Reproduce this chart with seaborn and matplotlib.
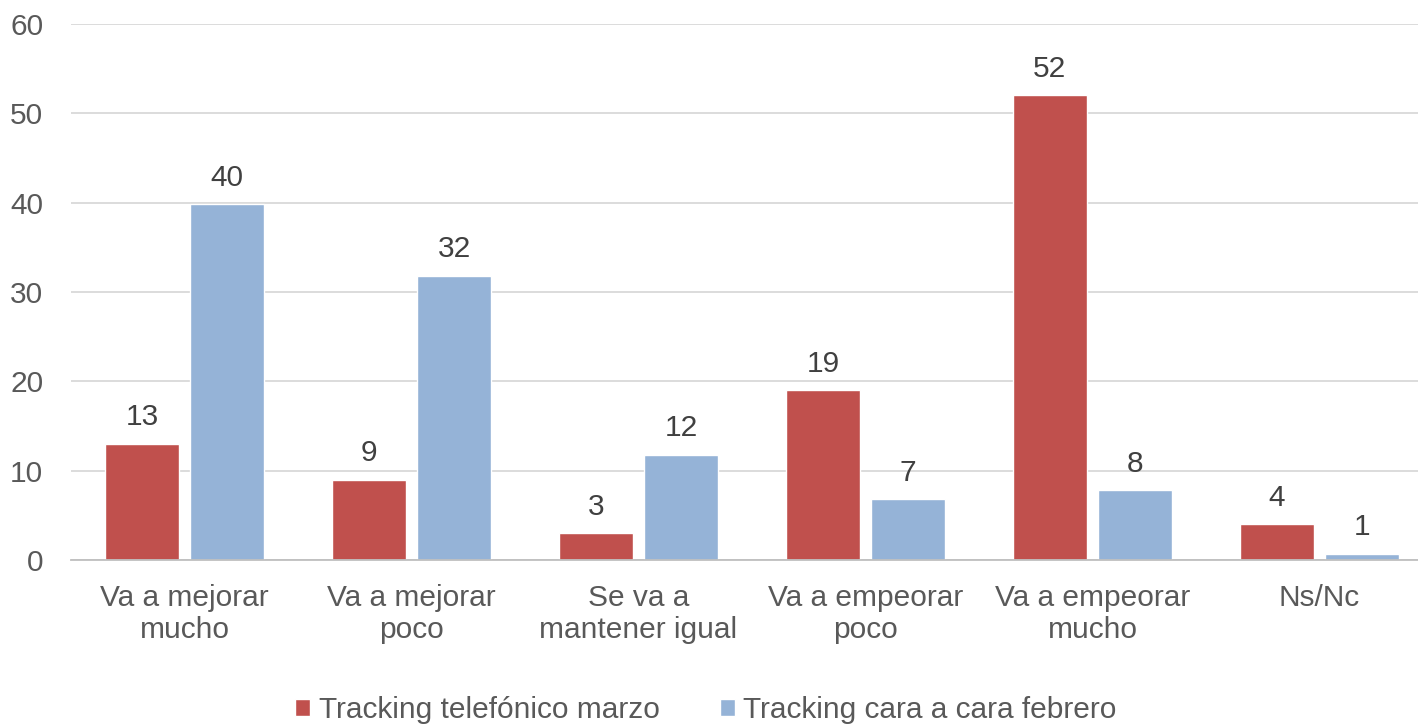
import numpy as np
import pandas as pd
import seaborn as sns
import matplotlib.pyplot as plt

categorias = ["Va a mejorar\nmucho", "Va a mejorar\npoco", "Se va a\nmantener igual",
              "Va a empeorar\npoco", "Va a empeorar\nmucho", "Ns/Nc"]
telefonico_marzo = [13, 9, 3, 19, 52, 4]
cara_a_cara_febrero = [39.8, 31.8, 11.8, 6.8, 7.8, 0.7]
series = ["Tracking telefónico marzo", "Tracking cara a cara febrero"]
colores = ["#C0504D", "#95B3D7"]

df = pd.DataFrame({
    "cat": categorias * 2,
    "valor": telefonico_marzo + cara_a_cara_febrero,
    "serie": [series[0]] * 6 + [series[1]] * 6,
})

sns.set_style("white")
plt.rcParams["font.family"] = ["Liberation Sans", "DejaVu Sans"]
fs = 21.5

fig = plt.figure(figsize=(14.18, 7.24), dpi=100)
ax = fig.add_axes([71 / 1418, 1 - 560 / 724, 1362 / 1418, 536 / 724])

sns.barplot(data=df, x="cat", y="valor", hue="serie", palette=colores,
            width=0.75, gap=0.14, ax=ax, saturation=1, legend=True)

for cont in ax.containers:
    ax.bar_label(cont, fmt="%.0f", padding=9, fontsize=fs, color="#404040")

ax.set_ylim(0, 60)
ax.set_yticks(range(0, 61, 10))
ax.set_xlim(-0.5, 5.5)
ax.yaxis.grid(True, color="#D9D9D9", linewidth=1.3)
ax.set_axisbelow(True)
for s in ["left", "right", "top"]:
    ax.spines[s].set_visible(False)
ax.spines["bottom"].set_color("#BFBFBF")
ax.spines["bottom"].set_linewidth(1.3)
ax.set_xlabel("")
ax.set_ylabel("")
ax.tick_params(axis="y", length=0, labelsize=fs, labelcolor="#595959", pad=20)
ax.tick_params(axis="x", length=0, labelsize=fs, labelcolor="#595959", pad=17)
ax.set_xticks(np.arange(-0.5, 6, 1), minor=True)
ax.tick_params(axis="x", which="minor", length=8, color="#BFBFBF", width=1.3)
for lab in ax.get_xticklabels():
    lab.set_linespacing(1.22)

ax.legend(loc="center", bbox_to_anchor=((706 - 71) / 1362, -(710 - 560) / 536),
          ncol=2, frameon=False, fontsize=fs, handlelength=0.5, handleheight=0.5,
          handletextpad=0.3, columnspacing=2.0, labelcolor="#595959")

fig.savefig("out.png", dpi=100)
